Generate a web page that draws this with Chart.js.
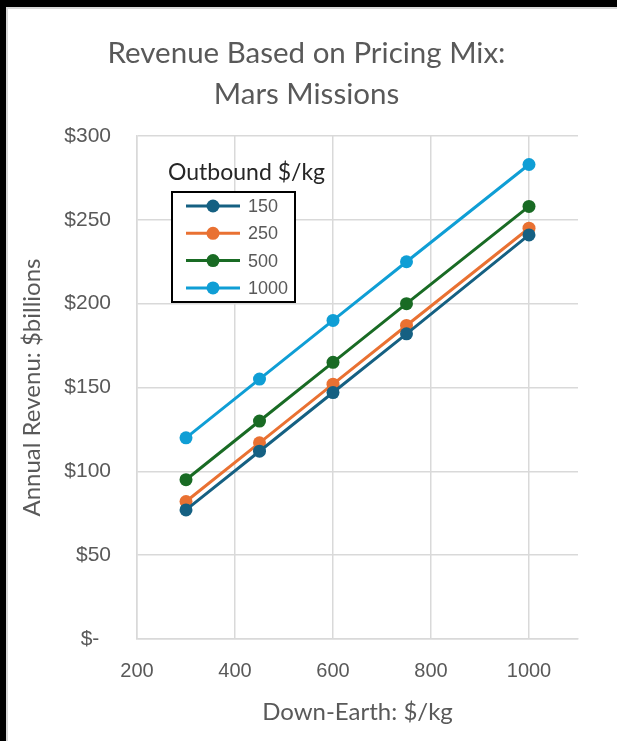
<!DOCTYPE html>
<html>
<head>
<meta charset="utf-8">
<script src="https://cdn.jsdelivr.net/npm/chart.js@4.4.1/dist/chart.umd.min.js"></script>
<style>
  html, body { margin: 0; padding: 0; background: #000; }
  #wrap {
    position: absolute; left: 6px; top: 7px;
    width: 611px; height: 734px;
    background: #fff;
    border-left: 2px solid #d9d9d9; border-top: 2px solid #d9d9d9;
    box-sizing: border-box;
  }
</style>
</head>
<body>
<div id="wrap"><canvas id="revenue-chart"></canvas></div>
<script>
// Down-Earth price, $/kg
var downEarth = [300, 450, 600, 750, 1000];
// Outbound price series labels
var outbound = ['150', '250', '500', '1000'];
// Annual revenue, $billions
var rev150 = [77, 112, 147, 182, 241];
var rev250 = [82, 117, 152, 187, 245];
var rev500 = [95, 130, 165, 200, 258];
var rev1000 = [120, 155, 190, 225, 283];
var xTicks = [200, 400, 600, 800, 1000];
var yTicks = [0, 50, 100, 150, 200, 250, 300];
var titleLines = ['Revenue Based on Pricing Mix:', 'Mars Missions'];

var colors = ['#156082', '#E97132', '#196B24', '#0F9ED5'];
var series = [rev150, rev250, rev500, rev1000];

function points(vals) {
  return vals.map(function (v, i) { return { x: downEarth[i], y: v }; });
}

// chart title, centred on the whole frame like Excel does
var frameTitle = {
  id: 'frameTitle',
  afterDraw: function (chart) {
    var ctx = chart.ctx;
    ctx.save();
    ctx.fillStyle = '#595959';
    ctx.font = '29.5px Lato';
    ctx.textAlign = 'center';
    ctx.textBaseline = 'middle';
    titleLines.forEach(function (t, i) {
      ctx.fillText(t, chart.width / 2 - 6, 44 + i * 41);
    });
    ctx.restore();
  }
};

// legend drawn inside the plot, like the Excel one
var boxLegend = {
  id: 'boxLegend',
  afterDraw: function (chart) {
    var ctx = chart.ctx;
    var a = chart.chartArea;
    var left = a.left + 35, top = a.top + 56;
    ctx.save();
    ctx.fillStyle = '#262626';
    ctx.font = '23px Lato';
    ctx.textBaseline = 'middle';
    ctx.textAlign = 'left';
    ctx.fillText('Outbound $/kg', left - 4, top - 19);
    ctx.fillStyle = '#fff';
    ctx.fillRect(left, top, 123, 110);
    ctx.strokeStyle = '#000';
    ctx.lineWidth = 2;
    ctx.strokeRect(left, top, 123, 110);
    chart.data.datasets.forEach(function (ds, i) {
      var y = top + 14 + i * 27.3;
      ctx.strokeStyle = ds.borderColor;
      ctx.lineWidth = 3;
      ctx.beginPath();
      ctx.moveTo(left + 14, y);
      ctx.lineTo(left + 68, y);
      ctx.stroke();
      ctx.fillStyle = ds.borderColor;
      ctx.beginPath();
      ctx.arc(left + 41, y, 6.5, 0, Math.PI * 2);
      ctx.fill();
      ctx.fillStyle = '#595959';
      ctx.font = '18px "Liberation Sans"';
      ctx.fillText(ds.label, left + 76, y + 1);
    });
    ctx.restore();
  }
};

var ctx = document.getElementById('revenue-chart').getContext('2d');
var myChart = new Chart(ctx, {
  type: 'line',
  data: {
    datasets: series.map(function (vals, i) {
      return {
        label: outbound[i],
        data: points(vals),
        borderColor: colors[i],
        backgroundColor: colors[i],
        borderWidth: 3,
        pointRadius: 6.5,
        pointBorderWidth: 0,
        fill: false
      };
    })
  },
  options: {
    responsive: true,
    maintainAspectRatio: false,
    animation: false,
    layout: { padding: { left: 0, right: 39, top: 127, bottom: 1 } },
    scales: {
      x: {
        type: 'linear',
        min: 200,
        max: 1100,
        afterBuildTicks: function (scale) {
          scale.ticks = xTicks.map(function (v) { return { value: v }; });
        },
        afterFit: function (scale) { scale.height = 101; },
        grid: { color: '#d9d9d9', lineWidth: 1.5, drawTicks: false },
        border: { color: '#d9d9d9', width: 1.5 },
        ticks: {
          color: '#595959',
          font: { family: 'Liberation Sans', size: 20 },
          padding: 20,
          callback: function (v) { return String(v); }
        },
        title: {
          display: true,
          text: 'Down-Earth: $/kg',
          color: '#595959',
          font: { family: 'Lato', size: 24 },
          padding: { top: 10, bottom: 13 }
        }
      },
      y: {
        min: 0,
        max: 300,
        afterBuildTicks: function (scale) {
          scale.ticks = yTicks.map(function (v) { return { value: v }; });
        },
        afterFit: function (scale) { scale.width = 129; },
        grid: { color: '#d9d9d9', lineWidth: 1.5, drawTicks: false },
        border: { color: '#d9d9d9', width: 1.5 },
        ticks: {
          color: '#595959',
          font: { family: 'Liberation Sans', size: 21 },
          padding: 26,
          callback: function (v) { return v === 0 ? '$-  ' : '$' + v; }
        },
        title: {
          display: true,
          text: 'Annual Revenu: $billions',
          color: '#595959',
          font: { family: 'Lato', size: 24 },
          padding: { top: 10, bottom: 0 }
        }
      }
    },
    plugins: {
      legend: { display: false },
      tooltip: { enabled: false },
      title: { display: false }
    }
  },
  plugins: [frameTitle, boxLegend]
});
</script>
</body>
</html>
